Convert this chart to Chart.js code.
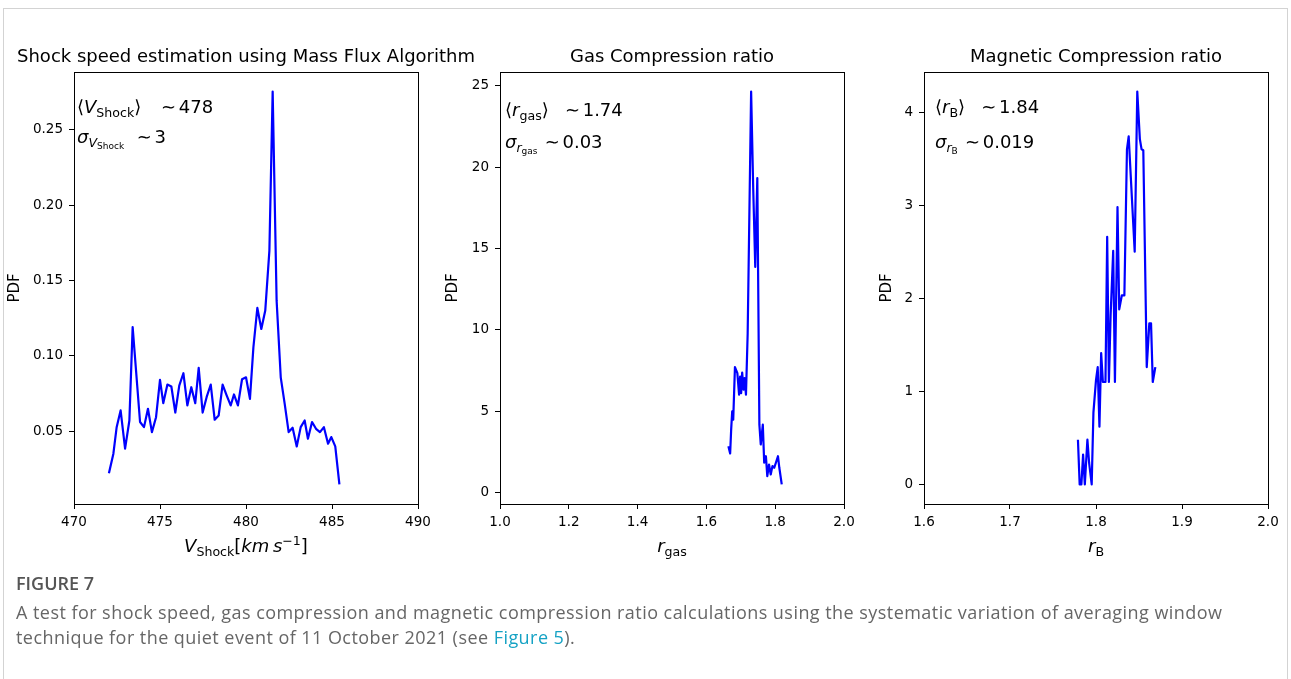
<!DOCTYPE html>
<html>
<head>
<meta charset="utf-8">
<script src="https://cdn.jsdelivr.net/npm/chart.js@4.4.1/dist/chart.umd.min.js"></script>
<style>
  html, body { margin: 0; padding: 0; background: #fff; }
  body { width: 1291px; height: 679px; position: relative; overflow: hidden; }
  .frame { position: absolute; left: 3px; top: 8px; width: 1285px; height: 690px; border: 1px solid #d3d3d3; box-sizing: border-box; }
  canvas.panel { position: absolute; left: 0; top: 0; }
  .cap { position: absolute; left: 16px; top: 570px; font-family: 'Open Sans', sans-serif; color: #666; }
  .cap .fig { font-size: 18px; font-weight: 600; color: #555; line-height: 26px; }
  .cap .txt { font-size: 18px; letter-spacing: 0.45px; line-height: 25px; margin-top: 4px; }
  .cap .lnk { color: #15a2c4; }
</style>
</head>
<body>
<div class="frame"></div>
<canvas class="panel" id="speedChart" width="1291" height="570"></canvas>
<canvas class="panel" id="gasChart" width="1291" height="570"></canvas>
<canvas class="panel" id="magChart" width="1291" height="570"></canvas>
<div class="cap">
  <div class="fig">FIGURE 7</div>
  <div class="txt">A test for shock speed, gas compression and magnetic compression ratio calculations using the systematic variation of averaging window<br>technique for the quiet event of 11 October 2021 (see <span class="lnk">Figure 5</span>).</div>
</div>
<script>
'use strict';

// shock speed PDF
let speedX = [472.03, 472.29, 472.48, 472.71, 472.97, 473.22, 473.41, 473.84, 474.07, 474.30,
  474.53, 474.77, 475.00, 475.19, 475.43, 475.66, 475.89, 476.12, 476.36, 476.59,
  476.82, 477.05, 477.25, 477.48, 477.71, 477.95, 478.18, 478.41, 478.64, 478.88,
  479.11, 479.30, 479.53, 479.77, 480.00, 480.23, 480.43, 480.66, 480.89, 481.12,
  481.36, 481.55, 481.78, 482.02, 482.25, 482.48, 482.71, 482.95, 483.18, 483.41,
  483.60, 483.84, 484.07, 484.30, 484.53, 484.77, 484.96, 485.19, 485.43];
let speedPdf = [0.022, 0.035, 0.0526, 0.0637, 0.0383, 0.057, 0.119, 0.056, 0.0526, 0.0648,
  0.0493, 0.0592, 0.084, 0.0685, 0.0809, 0.0796, 0.0623, 0.0802, 0.0884, 0.067,
  0.0791, 0.0685, 0.092, 0.0623, 0.0725, 0.0809, 0.0575, 0.0603, 0.0809, 0.0736,
  0.067, 0.0743, 0.067, 0.0844, 0.0857, 0.0714, 0.1056, 0.1318, 0.1178, 0.13,
  0.1698, 0.2754, 0.1366, 0.0857, 0.0681, 0.0493, 0.0522, 0.0398, 0.0526, 0.057,
  0.0449, 0.056, 0.0515, 0.0493, 0.0526, 0.0416, 0.046, 0.0398, 0.0146];

// gas compression ratio PDF
let gasX = [1.664, 1.669, 1.672, 1.675, 1.678, 1.683, 1.690, 1.695, 1.698, 1.701,
  1.704, 1.708, 1.711, 1.715, 1.720, 1.730, 1.736, 1.742, 1.748, 1.754,
  1.758, 1.764, 1.768, 1.773, 1.777, 1.782, 1.787, 1.792, 1.797, 1.802,
  1.808, 1.812, 1.819];
let gasPdf = [2.84, 2.39, 3.86, 4.98, 4.47, 7.70, 7.33, 6.00, 7.12, 6.10,
  7.37, 6.31, 7.02, 6.00, 9.78, 24.64, 18.76, 13.86, 19.33, 4.16,
  2.94, 4.16, 1.82, 2.22, 1.00, 1.71, 1.10, 1.61, 1.51, 1.82,
  2.22, 1.51, 0.49];

// magnetic compression ratio PDF
let magX = [1.779, 1.781, 1.783, 1.785, 1.787, 1.790, 1.792, 1.795, 1.797, 1.800,
  1.802, 1.804, 1.806, 1.808, 1.811, 1.813, 1.815, 1.817, 1.820, 1.822,
  1.825, 1.827, 1.830, 1.833, 1.836, 1.838, 1.845, 1.848, 1.851, 1.853,
  1.855, 1.859, 1.862, 1.864, 1.866, 1.869];
let magPdf = [0.48, 0, 0, 0.32, 0, 0.48, 0.23, 0, 0.77, 1.12,
  1.26, 0.62, 1.41, 1.10, 1.10, 2.66, 1.10, 1.82, 2.51, 1.10,
  2.98, 1.88, 2.03, 2.03, 3.60, 3.74, 2.50, 4.22, 3.71, 3.60,
  3.59, 1.26, 1.73, 1.73, 1.10, 1.26];

let speedXTicks = [470, 475, 480, 485, 490];
let speedYTicks = [0.05, 0.10, 0.15, 0.20, 0.25];
let gasXTicks = [1.0, 1.2, 1.4, 1.6, 1.8, 2.0];
let gasYTicks = [0, 5, 10, 15, 20, 25];
let magXTicks = [1.6, 1.7, 1.8, 1.9, 2.0];
let magYTicks = [0, 1, 2, 3, 4];

let MATH = '"DejaVu Sans"';

function richWidth(ctx, parts, size) {
  let w = 0;
  for (let p of parts) {
    if (p.sp) { w += p.sp * size; continue; }
    ctx.font = (p.i ? 'oblique ' : '') + (size * (p.s || 1)) + 'px ' + MATH;
    w += ctx.measureText(p.t).width;
  }
  return w;
}

function drawRich(ctx, x, y, parts, size) {
  let cx = x;
  for (let p of parts) {
    if (p.sp) { cx += p.sp * size; continue; }
    ctx.font = (p.i ? 'oblique ' : '') + (size * (p.s || 1)) + 'px ' + MATH;
    ctx.fillText(p.t, cx, y + (p.dy || 0) * size);
    cx += ctx.measureText(p.t).width;
  }
}

// matplotlib style: box, title, annotation and x label
let panelText = {
  id: 'panelText',
  afterDraw(chart, args, o) {
    let ctx = chart.ctx;
    let a = chart.chartArea;
    ctx.save();
    ctx.strokeStyle = '#000';
    ctx.lineWidth = 1;
    let l = Math.round(a.left), t = Math.round(a.top), r = Math.round(a.right), b = Math.round(a.bottom);
    ctx.strokeRect(l + 0.5, t + 0.5, r - l, b - t);
    ctx.fillStyle = '#000';
    ctx.textBaseline = 'alphabetic';
    ctx.textAlign = 'center';
    ctx.font = '18px ' + MATH;
    ctx.fillText(o.title, (a.left + a.right) / 2, 62);
    ctx.textAlign = 'left';
    drawRich(ctx, a.left + o.noteDx, o.noteY[0], o.line1, 18);
    drawRich(ctx, a.left + o.noteDx, o.noteY[1], o.line2, 18);
    let w = richWidth(ctx, o.xLabel, 18);
    drawRich(ctx, (a.left + a.right) / 2 - w / 2, 552, o.xLabel, 18);
    ctx.restore();
  }
};

function padded(vals) {
  let lo = Math.min(...vals), hi = Math.max(...vals);
  let m = (hi - lo) * 0.05;
  return [lo - m, hi + m];
}

function makePanel(id, xs, ys, xRange, xTicks, yTicks, xDec, yDec, geo, texts) {
  let yr = padded(ys);
  let pdfFont = 15;
  let padLeft = geo.pdfX - pdfFont * 1.2 / 2;
  let points = xs.map((x, i) => ({ x: x, y: ys[i] }));
  let tickFont = { family: 'DejaVu Sans', size: 13.5 };
  let grid = { display: true, drawOnChartArea: false, drawTicks: true, tickLength: 5, color: '#000', lineWidth: 1 };
  return new Chart(document.getElementById(id), {
    type: 'scatter',
    data: {
      datasets: [{
        data: points,
        showLine: true,
        borderColor: '#0000ff',
        backgroundColor: '#0000ff',
        borderWidth: 2.2,
        borderJoinStyle: 'round',
        pointRadius: 0,
        tension: 0
      }]
    },
    options: {
      responsive: false,
      animation: false,
      events: [],
      layout: { padding: { left: padLeft, right: 1291 - geo.right, top: 72, bottom: 570 - 504 - 40 } },
      plugins: { legend: { display: false }, tooltip: { enabled: false }, panelText: texts },
      scales: {
        x: {
          type: 'linear', min: xRange[0], max: xRange[1],
          afterBuildTicks: s => { s.ticks = xTicks.map(v => ({ value: v })); },
          afterFit: s => { s.height = 40; },
          grid: grid,
          border: { display: false },
          ticks: { font: tickFont, color: '#000', padding: 5, maxRotation: 0, autoSkip: false,
            callback: v => Number(v).toFixed(xDec) }
        },
        y: {
          type: 'linear', min: yr[0], max: yr[1],
          afterBuildTicks: s => { s.ticks = yTicks.map(v => ({ value: v })); },
          afterFit: s => { s.width = geo.left - padLeft; },
          grid: grid,
          border: { display: false },
          title: { display: true, text: 'PDF', color: '#000', padding: 0, font: { family: 'DejaVu Sans', size: pdfFont } },
          ticks: { font: tickFont, color: '#000', padding: 6,
            callback: v => Number(v).toFixed(yDec) }
        }
      }
    },
    plugins: [panelText]
  });
}

makePanel('speedChart', speedX, speedPdf, [470, 490], speedXTicks, speedYTicks, 0, 2,
  { left: 74, right: 418, pdfX: 15 },
  {
    title: 'Shock speed estimation using Mass Flux Algorithm',
    noteDx: 3, noteY: [113, 143],
    line1: [{ t: '\u27E8' }, { t: 'V', i: 1 }, { t: 'Shock', s: 0.7, dy: 0.2 }, { t: '\u27E9' }, { sp: 1.1 }, { t: '\u223C' }, { sp: 0.15 }, { t: '478' }],
    line2: [{ t: '\u03C3', i: 1 }, { t: 'V', i: 1, s: 0.7, dy: 0.2 }, { t: 'Shock', s: 0.5, dy: 0.32 }, { sp: 0.7 }, { t: '\u223C' }, { sp: 0.15 }, { t: '3' }],
    xLabel: [{ t: 'V', i: 1 }, { t: 'Shock', s: 0.7, dy: 0.2 }, { t: '[' }, { t: 'km', i: 1 }, { sp: 0.2 }, { t: 's', i: 1 }, { t: '\u22121', s: 0.7, dy: -0.4 }, { t: ']' }]
  });

makePanel('gasChart', gasX, gasPdf, [1.0, 2.0], gasXTicks, gasYTicks, 1, 0,
  { left: 500, right: 844, pdfX: 453 },
  {
    title: 'Gas Compression ratio',
    noteDx: 5, noteY: [116, 148],
    line1: [{ t: '\u27E8' }, { t: 'r', i: 1 }, { t: 'gas', s: 0.7, dy: 0.2 }, { t: '\u27E9' }, { sp: 0.9 }, { t: '\u223C' }, { sp: 0.15 }, { t: '1.74' }],
    line2: [{ t: '\u03C3', i: 1 }, { t: 'r', i: 1, s: 0.7, dy: 0.2 }, { t: 'gas', s: 0.5, dy: 0.35 }, { sp: 0.4 }, { t: '\u223C' }, { sp: 0.15 }, { t: '0.03' }],
    xLabel: [{ t: 'r', i: 1 }, { t: 'gas', s: 0.7, dy: 0.2 }]
  });

makePanel('magChart', magX, magPdf, [1.6, 2.0], magXTicks, magYTicks, 1, 0,
  { left: 924, right: 1268, pdfX: 887 },
  {
    title: 'Magnetic Compression ratio',
    noteDx: 11, noteY: [113, 148],
    line1: [{ t: '\u27E8' }, { t: 'r', i: 1 }, { t: 'B', s: 0.7, dy: 0.2 }, { t: '\u27E9' }, { sp: 0.9 }, { t: '\u223C' }, { sp: 0.15 }, { t: '1.84' }],
    line2: [{ t: '\u03C3', i: 1 }, { t: 'r', i: 1, s: 0.7, dy: 0.2 }, { t: 'B', s: 0.5, dy: 0.35 }, { sp: 0.4 }, { t: '\u223C' }, { sp: 0.15 }, { t: '0.019' }],
    xLabel: [{ t: 'r', i: 1 }, { t: 'B', s: 0.7, dy: 0.2 }]
  });
</script>
</body>
</html>
